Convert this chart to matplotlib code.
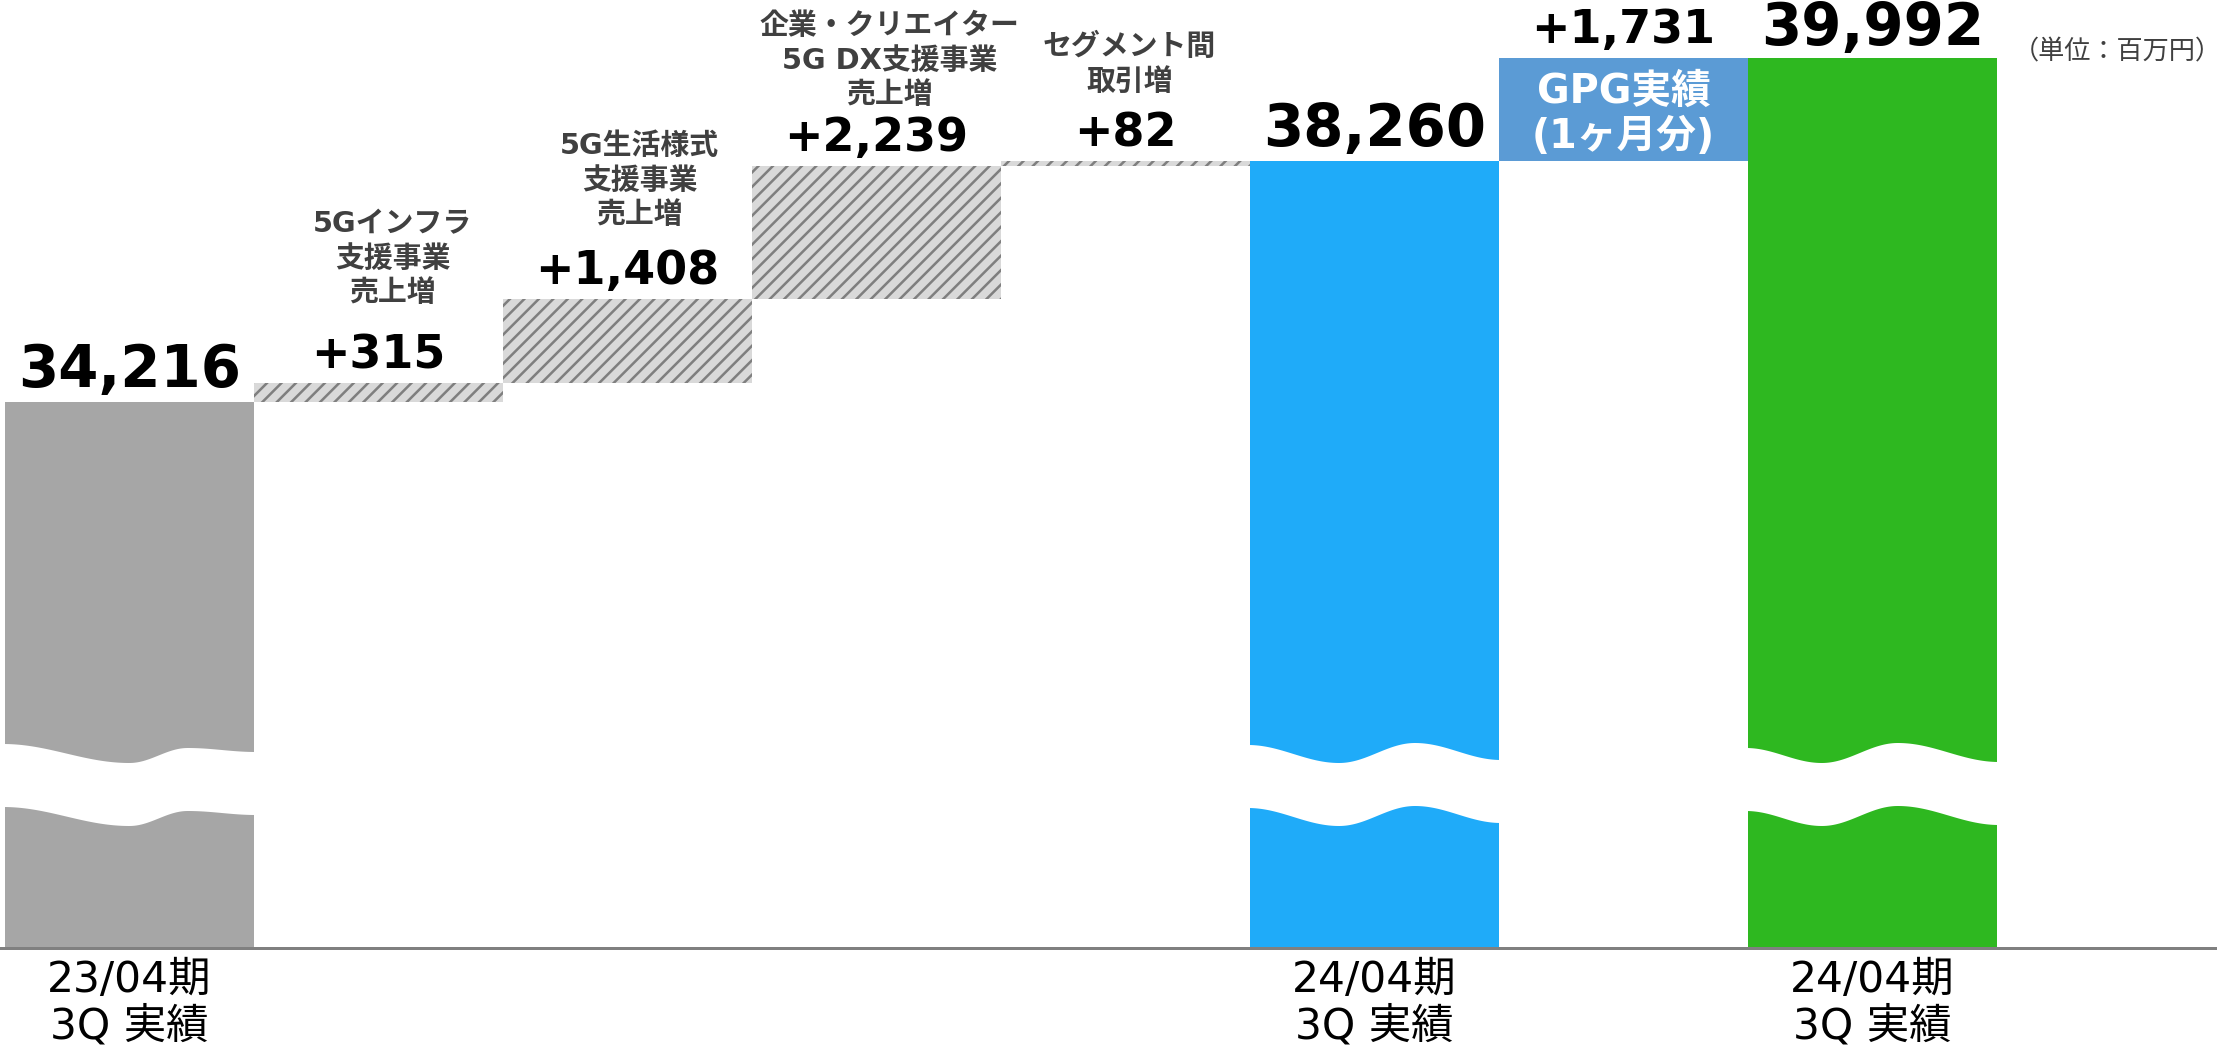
import numpy as np
import matplotlib
matplotlib.use("Agg")
import matplotlib.pyplot as plt
from matplotlib.patches import Polygon

# ---- data (単位：百万円) ----
start_label = "23/04期\n3Q 実績"
start_value = 34216

step_labels = [
    "5Gインフラ\n支援事業\n売上増",
    "5G生活様式\n支援事業\n売上増",
    "企業・クリエイター\n5G DX支援事業\n売上増",
    "セグメント間\n取引増",
]
step_values = [315, 1408, 2239, 82]

mid_label = "24/04期\n3Q 実績"
mid_value = 38260

gpg_label = "GPG実績\n(1ヶ月分)"
gpg_value = 1731

end_label = "24/04期\n3Q 実績"
end_value = 39992

unit_text = "（単位：百万円）"

# ---- styling ----
GRAY = "#a6a6a6"
HATCH_FACE = "#d9d9d9"
HATCH_LINE = "#7f7f7f"
BLUE = "#1fabf9"
GPG_BLUE = "#5b9bd5"
GREEN = "#2eb820"
AXIS = "#808080"
LABEL_GRAY = "#404040"
FAMILY = ["DejaVu Sans", "Noto Sans CJK JP"]

plt.rcParams["hatch.linewidth"] = 1.4

DPI = 130
W, H = 2226, 1049
BASE_PX = 948          # baseline, pixels from top
SLOT = 249             # pixels per bar slot

fig = plt.figure(figsize=(W / DPI, H / DPI), dpi=DPI)
ax = fig.add_axes([0, (H - BASE_PX) / H, 1, BASE_PX / H])
ax.axis("off")

# broken value axis: bars start from a truncated floor
Y0, Y1 = 25049, 40966
ax.set_ylim(Y0, Y1)
X0 = -0.5 - 5 / SLOT
ax.set_xlim(X0, X0 + W / SLOT)
upp = (Y1 - Y0) / BASE_PX


def ypx(px):
    """pixel row (from top of figure) -> data value"""
    return Y1 - px * upp


# ---- bars ----
ax.bar(0, start_value - Y0, bottom=Y0, width=1, color=GRAY, linewidth=0, zorder=2)

running = start_value
step_tops = []
for i, v in enumerate(step_values):
    ax.bar(1 + i, v, bottom=running, width=1, color=HATCH_FACE,
           edgecolor=HATCH_LINE, hatch="///", linewidth=0, zorder=2)
    running += v
    step_tops.append(running)

ax.bar(5, mid_value - Y0, bottom=Y0, width=1, color=BLUE, linewidth=0, zorder=2)
ax.bar(6, gpg_value, bottom=mid_value, width=1, color=GPG_BLUE, linewidth=0, zorder=2)
ax.bar(7, end_value - Y0, bottom=Y0, width=1, color=GREEN, linewidth=0, zorder=2)


# ---- wavy break bands on the full-height bars ----
def wave_edge(t_keys, y_keys, n=120):
    t = np.linspace(0, 1, n)
    y = np.empty_like(t)
    for j in range(len(t_keys) - 1):
        a, b = t_keys[j], t_keys[j + 1]
        m = (t >= a) & (t <= b)
        s = (t[m] - a) / (b - a)
        y[m] = y_keys[j] + (y_keys[j + 1] - y_keys[j]) * (1 - np.cos(np.pi * s)) / 2
    return t, y


def draw_break(xc, t_keys, y_keys, gap=63):
    t, y_top = wave_edge(t_keys, y_keys)
    pad = 2 / SLOT
    xs = xc - 0.5 - pad + t * (1 + 2 * pad)
    upper = np.column_stack([xs, ypx(y_top)])
    lower = np.column_stack([xs[::-1], ypx(y_top[::-1] + gap)])
    ax.add_patch(Polygon(np.vstack([upper, lower]), closed=True,
                         facecolor="white", edgecolor="none", zorder=3))


draw_break(0, [0, 0.5, 0.73, 1], [744, 763, 748, 752])
draw_break(5, [0, 0.36, 0.66, 1], [745, 763, 743, 760])
draw_break(7, [0, 0.30, 0.60, 1], [748, 763, 743, 762])

# ---- baseline ----
ax.axhline(Y0, xmin=0, xmax=2215 / W, color=AXIS, lw=3 * 72 / DPI,
           clip_on=False, zorder=5)


# ---- value labels ----
def value_label(x, top, text, size, gap_px=15):
    ax.text(x, top + gap_px * upp, text, ha="center", va="baseline",
            fontsize=size, fontweight="bold", color="black", family=FAMILY, zorder=6)


value_label(0, start_value, f"{start_value:,}", 32)
for i, (v, top) in enumerate(zip(step_values, step_tops)):
    value_label(1 + i, top, f"+{v:,}", 25.5)
value_label(5, mid_value, f"{mid_value:,}", 32)
value_label(6, end_value, f"+{gpg_value:,}", 25.5)
value_label(7, end_value, f"{end_value:,}", 32, gap_px=13)


# ---- stacked category captions ----
def stacked(x, first_px, pitch, text, **kw):
    for k, line in enumerate(text.split("\n")):
        ax.text(x, ypx(first_px + k * pitch), line, ha="center", va="center",
                family=FAMILY, zorder=6, **kw)


caption_layout = [(14, 224), (12, 146), (13, 26), (4, 47)]  # (x shift px, first line px)
for i, (label, (dx, y_first)) in enumerate(zip(step_labels, caption_layout)):
    stacked(1 + i + dx / SLOT, y_first, 34.5, label,
            fontsize=16, fontweight="bold", color=LABEL_GRAY)

stacked(6, 92, 45, gpg_label, fontsize=22, fontweight="bold", color="white")

for xc, label in [(0, start_label), (5, mid_label), (7, end_label)]:
    stacked(xc, 980, 46, label, fontsize=23.5, color="black")

fig.text(2117 / W, 1 - 52 / H, unit_text, ha="center", va="center",
         fontsize=14.5, color=LABEL_GRAY, family=["Noto Sans CJK JP", "DejaVu Sans"])

fig.savefig("out.png", dpi=DPI, facecolor="white")
